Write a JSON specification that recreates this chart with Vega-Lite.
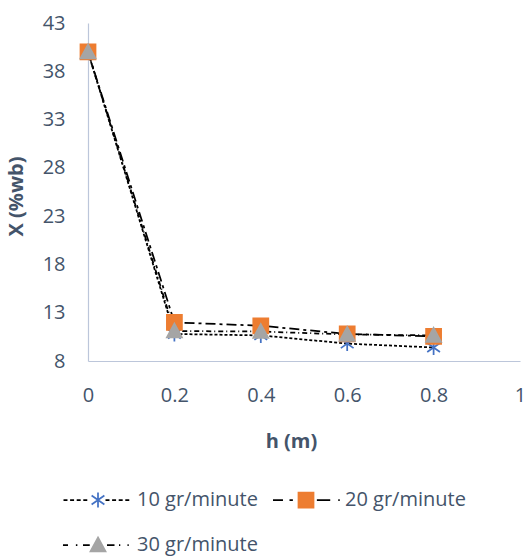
{
  "$schema": "https://vega.github.io/schema/vega-lite/v6.json",
  "autosize": "none",
  "width": 432,
  "height": 338,
  "padding": {"left": 88, "top": 23, "right": 7, "bottom": 195},
  "background": "white",
  "config": {
    "view": {"stroke": null},
    "font": "Open Sans",
    "axis": {
      "labelFont": "Open Sans", "labelFontSize": 20, "labelColor": "#44546a",
      "titleFont": "Open Sans", "titleFontSize": 20, "titleFontWeight": "bold", "titleColor": "#44546a",
      "domainColor": "#bcc6da", "domainWidth": 1.2, "ticks": false, "grid": false, "labelFlush": false
    }
  },
  "data": {"values": [
    {"series": "10 gr/minute", "h": 0, "X": 40},
    {"series": "10 gr/minute", "h": 0.2, "X": 10.8},
    {"series": "10 gr/minute", "h": 0.4, "X": 10.65},
    {"series": "10 gr/minute", "h": 0.6, "X": 9.8},
    {"series": "10 gr/minute", "h": 0.8, "X": 9.4},
    {"series": "20 gr/minute", "h": 0, "X": 40},
    {"series": "20 gr/minute", "h": 0.2, "X": 12.0},
    {"series": "20 gr/minute", "h": 0.4, "X": 11.65},
    {"series": "20 gr/minute", "h": 0.6, "X": 10.8},
    {"series": "20 gr/minute", "h": 0.8, "X": 10.55},
    {"series": "30 gr/minute", "h": 0, "X": 40},
    {"series": "30 gr/minute", "h": 0.2, "X": 11.1},
    {"series": "30 gr/minute", "h": 0.4, "X": 11.05},
    {"series": "30 gr/minute", "h": 0.6, "X": 10.75},
    {"series": "30 gr/minute", "h": 0.8, "X": 10.65}
  ]},
  "encoding": {
    "x": {"field": "h", "type": "quantitative",
      "scale": {"domain": [0, 1], "nice": false, "zero": false},
      "axis": {"title": "h (m)", "values": [0, 0.2, 0.4, 0.6, 0.8, 1], "format": ".1~f", "labelPadding": 24,
        "titleX": 203, "titleY": 80, "titleBaseline": "middle", "titleAlign": "center"}},
    "y": {"field": "X", "type": "quantitative",
      "scale": {"domain": [8, 43], "nice": false, "zero": false},
      "axis": {"title": "X (%wb)", "values": [8, 13, 18, 23, 28, 33, 38, 43], "labelPadding": 23,
        "titleX": -72, "titleY": 173, "titleBaseline": "middle", "titleAlign": "center", "titleAngle": -90}}
  },
  "layer": [
    {
      "mark": {"type": "line", "color": "black", "strokeWidth": 1.75},
      "encoding": {
        "strokeDash": {"field": "series", "type": "nominal",
          "scale": {"domain": ["10 gr/minute", "20 gr/minute", "30 gr/minute"], "range": [[3, 2], [10, 4, 3, 4], [5, 3, 1, 3]]},
          "legend": null}
      }
    },
    {
      "mark": {"type": "point", "opacity": 0, "filled": false, "color": "black", "strokeWidth": 1.75, "size": 225},
      "encoding": {
        "shape": {"field": "series", "type": "nominal",
          "scale": {"domain": ["10 gr/minute", "20 gr/minute", "30 gr/minute"], "range": [
            "M-4.6,0H-4.07M-3.72,0H-3.19M-2.84,0H-2.31M-1.96,0H-1.43M1,0H1.53M1.88,0H2.41M2.76,0H3.29M3.64,0H4.17M-4.8,-1M4.8,1",
            "M-4.4,0H-3.07M-2.2,0H-1.75M1.45,0H3.23M4.3,0H4.5M-4.8,-1M4.8,1",
            "M-4.67,0H-4M-2.95,0H-2.75M-2,0H-1.1M1.2,0H2.2M2.8,0H2.97M3.93,0H4.1M-4.8,-1M4.8,1"
          ]},
          "legend": {"title": null, "orient": "none", "direction": "horizontal", "legendX": 0, "legendY": 467, "columns": 2, "padding": 0,
            "symbolSize": 225, "symbolStrokeWidth": 1.75, "symbolStrokeColor": "black", "symbolFillColor": "transparent",
            "labelFont": "Open Sans", "labelFontSize": 20, "labelColor": "#44546a", "labelOffset": 29,
            "rowPadding": 23, "columnPadding": 8,
            "encode": {"symbols": {"update": {"opacity": {"value": 1}}}}}}
      }
    },
    {
      "mark": {"type": "point", "filled": true, "size": 225, "strokeWidth": 1.75, "opacity": 1},
      "encoding": {
        "shape": {"field": "series", "type": "nominal",
          "scale": {"domain": ["10 gr/minute", "20 gr/minute", "30 gr/minute"], "range": [
            "M0,-1V1M-0.85,-0.6L0.85,0.6M-0.85,0.6L0.85,-0.6M-4.8,-1M4.8,1",
            "M-1,-1H1V1H-1ZM-4.8,-1M4.8,1",
            "M0,-1L1,0.85H-1ZM-4.8,-1M4.8,1"
          ]},
          "legend": {"title": null, "orient": "none", "direction": "horizontal", "legendX": 0, "legendY": 467, "columns": 2, "padding": 0,
            "symbolSize": 225, "symbolStrokeWidth": 1.75,
            "labelFont": "Open Sans", "labelFontSize": 20, "labelColor": "#44546a", "labelOpacity": 0, "labelOffset": 29,
            "rowPadding": 23, "columnPadding": 8}},
        "color": {"field": "series", "type": "nominal",
          "scale": {"domain": ["10 gr/minute", "20 gr/minute", "30 gr/minute"], "range": ["#4472c4", "#ed7d31", "#a5a5a5"]},
          "legend": {"title": null, "orient": "none", "direction": "horizontal", "legendX": 0, "legendY": 467, "columns": 2, "padding": 0,
            "symbolSize": 225, "symbolStrokeWidth": 1.75,
            "labelFont": "Open Sans", "labelFontSize": 20, "labelColor": "#44546a", "labelOpacity": 0, "labelOffset": 29,
            "rowPadding": 23, "columnPadding": 8}},
        "stroke": {"field": "series", "type": "nominal",
          "scale": {"domain": ["10 gr/minute", "20 gr/minute", "30 gr/minute"], "range": ["#4472c4", "#ed7d31", "#a5a5a5"]},
          "legend": {"title": null, "orient": "none", "direction": "horizontal", "legendX": 0, "legendY": 467, "columns": 2, "padding": 0,
            "symbolSize": 225, "symbolStrokeWidth": 1.75,
            "labelFont": "Open Sans", "labelFontSize": 20, "labelColor": "#44546a", "labelOpacity": 0, "labelOffset": 29,
            "rowPadding": 23, "columnPadding": 8}}
      }
    }
  ],
  "resolve": {"scale": {"shape": "independent", "color": "independent", "stroke": "independent", "strokeDash": "independent"},
    "legend": {"shape": "independent", "color": "independent", "stroke": "independent"}}
}
